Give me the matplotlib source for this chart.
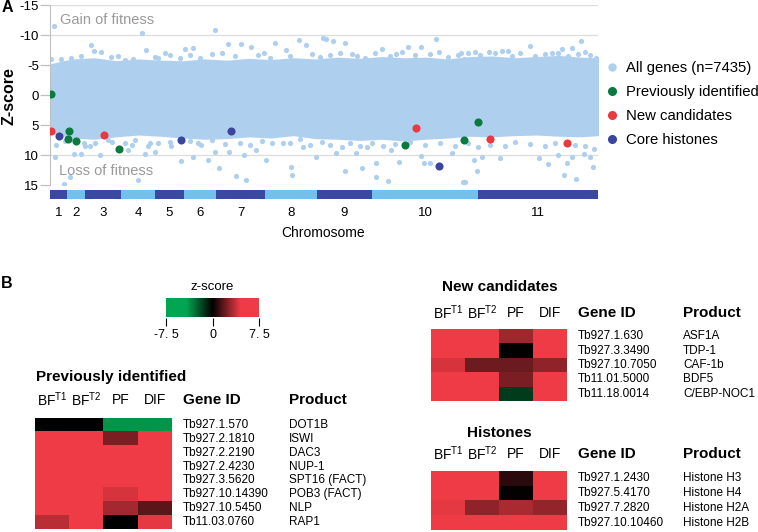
import matplotlib.pyplot as plt
from matplotlib.colors import LinearSegmentedColormap
from matplotlib.lines import Line2D

plt.rcParams['font.family'] = ['Liberation Sans', 'DejaVu Sans']
plt.rcParams['mathtext.fontset'] = 'custom'
plt.rcParams['mathtext.rm'] = 'Liberation Sans'

# ---- panel A data (gene rank along genome, z-score) ----
n_genes = 7435
chrom_edges = [0, 231, 475, 963, 1425, 1818, 2253, 2918, 3623, 4369, 5808, 7435]
chrom_names = ['1', '2', '3', '4', '5', '6', '7', '8', '9', '10', '11']

# dense core of the cloud (upper / lower edge)
core_pos = [0, 300, 600, 900, 1200, 1500, 1800, 2100, 2400, 2700, 3000, 3300, 3600,
            3900, 4200, 4500, 4800, 5100, 5400, 5700, 6000, 6300, 6600, 6900, 7200, 7435]
core_top = [-5.0, -5.8, -6.0, -5.5, -5.8, -5.6, -5.5, -5.8, -5.6, -5.9, -5.7, -6.0, -5.8,
            -6.1, -5.9, -6.2, -6.0, -6.1, -5.8, -6.2, -6.3, -6.0, -6.2, -6.4, -6.1, -6.0]
core_bot = [6.0, 6.8, 7.0, 6.6, 6.3, 6.5, 6.8, 7.0, 6.9, 6.6, 6.8, 6.4, 6.9,
            7.0, 7.2, 7.0, 7.3, 7.0, 6.8, 6.5, 6.6, 6.4, 6.3, 6.5, 6.6, 6.4]

# scattered genes outside the core
out_pos = [54, 1248, 556, 692, 597, 1303, 1561, 1832, 149, 285, 828, 1018, 1425,
           68, 326, 421, 679, 1058, 1289, 1194, 190, 271, 1778, 1425, 461, 543, 841, 1113, 1357, 1628,
           2239, 2415, 2592, 2728, 3053, 3379, 3474, 3705, 1941, 2334, 3203, 2904,
           2239, 2049, 2429, 2633, 2795, 2931, 2293, 2144, 2524, 2660, 3270, 3284, 3610, 1941, 3162, 3433,
           3840, 4003, 3745, 4858, 5034, 5238, 4505, 5279, 5577, 4166, 4695,
           3881, 4152, 4003, 4234, 4424, 4424, 4587, 4736, 5075, 5157, 5034, 5455, 5604, 4302, 4627,
           6514, 7206, 6134, 6215, 5767, 5957, 6948, 7084, 6812, 7260, 5618,
           5794, 5632, 5754, 5862, 6106, 6636, 6758, 6894, 7016, 6975, 7138, 7084, 7246, 7369, 7328,
           14, 421, 923, 1126, 1466, 1628, 1764, 1900, 2036, 2198, 2510, 2823, 2985, 3257, 3555, 3664,
           3800, 3935, 4098, 4275, 4410, 4614, 4777, 4953, 5157, 5401, 5537,
           5672, 5835, 6039, 6269, 6378, 6581, 6717, 6894, 7029, 7165, 7328, 7409,
           81, 204, 475, 611, 787, 1018, 1153, 1330, 1466, 1642, 1900, 2008, 2198, 2375, 2578, 2714,
           2877, 3013, 3257, 3393, 3528, 3691, 3800, 3962, 4071, 4207, 4370, 4519, 4682, 4885, 5089,
           5292, 5496, 5672, 5808, 5971, 6174, 6310, 6514, 6717, 6853, 7125, 7260, 7382]
out_z = [-11.6, -10.4, -8.4, -7.3, -7.4, -7.6, -7.1, -7.7, -6.1, -6.2, -6.4, -5.9, -6.4,
         10.2, 9.8, 9.8, 9.9, 9.1, 9.8, 14.1, 14.7, 13.6, 11.0, 9.4, 8.0, 8.5, 7.8, 8.3, 8.0, 7.8,
         -10.9, -8.6, -8.6, -8.0, -8.7, -9.2, -8.4, -9.5, -7.9, -7.1, -7.6, -7.1,
         9.4, 8.3, 9.4, 9.9, 9.1, 10.7, 12.1, 10.7, 13.4, 14.1, 11.9, 13.2, 10.2, 10.2, 8.0, 8.6,
         -9.1, -8.8, -9.4, -8.1, -8.1, -9.4, -7.7, -7.3, -7.1, -6.5, -6.9,
         9.6, 9.6, 12.6, 12.1, 11.3, 13.6, 14.3, 11.1, 11.3, 11.3, 10.1, 9.6, 14.4, 8.6, 9.1,
         -8.3, -9.1, -7.4, -7.4, -7.3, -7.3, -7.8, -7.9, -7.1, -7.2, -6.1,
         12.6, 14.4, 10.7, 10.2, 10.5, 10.5, 11.4, 9.9, 11.3, 13.2, 13.9, 10.2, 9.8, 11.9, 10.2,
         -6.0, -6.5, -6.6, -6.0, -6.3, -6.7, -6.2, -6.8, -6.3, -6.9, -6.5, -6.8, -6.2, -6.6, -6.9, -6.4,
         -6.8, -7.0, -6.9, -6.2, -7.0, -6.5, -7.2, -6.7, -6.9, -6.4, -6.8,
         -7.0, -6.8, -7.0, -6.6, -7.1, -6.5, -6.9, -7.0, -6.6, -6.9, -6.8, -6.3,
         8.2, 7.6, 8.5, 7.9, 7.4, 7.9, 7.4, 8.5, 7.9, 8.5, 7.6, 8.0, 7.4, 8.1, 7.9, 8.3,
         7.6, 8.0, 7.9, 7.3, 8.3, 7.7, 8.2, 8.6, 7.9, 8.5, 8.0, 8.4, 8.1, 7.7, 8.3,
         7.9, 8.5, 8.0, 8.6, 8.2, 8.4, 7.8, 8.1, 8.5, 7.9, 8.2, 8.4, 9.0]

prev_pos = [14, 258, 244, 353, 936, 4817, 5618, 5808]
prev_z = [-0.3, 6.0, 7.2, 7.6, 9.0, 8.3, 7.5, 4.5]
new_pos = [14, 733, 4967, 5971, 7016]
new_z = [5.9, 6.6, 5.5, 7.3, 8.0]
hist_pos = [122, 1778, 2456, 5279]
hist_z = [6.7, 7.4, 6.0, 11.7]

# ---- panel B data ----
cols = [r'BF$^{\mathregular{T1}}$', r'BF$^{\mathregular{T2}}$', 'PF', 'DIF']

prev_ids = ['Tb927.1.570', 'Tb927.2.1810', 'Tb927.2.2190', 'Tb927.2.4230',
            'Tb927.3.5620', 'Tb927.10.14390', 'Tb927.10.5450', 'Tb11.03.0760']
prev_prod = ['DOT1B', 'ISWI', 'DAC3', 'NUP-1', 'SPT16 (FACT)', 'POB3 (FACT)', 'NLP', 'RAP1']
prev_vals = [[0.0, 0.0, -3.8, -3.8],
             [7.0, 7.0, 2.3, 7.0],
             [7.0, 7.0, 7.0, 7.0],
             [7.0, 7.0, 7.0, 7.0],
             [7.0, 7.0, 7.0, 7.0],
             [7.0, 7.0, 4.0, 7.0],
             [7.0, 7.0, 3.1, 1.7],
             [3.5, 7.0, 0.0, 4.3]]

new_ids = ['Tb927.1.630', 'Tb927.3.3490', 'Tb927.10.7050', 'Tb11.01.5000', 'Tb11.18.0014']
new_prod = ['ASF1A', 'TDP-1', 'CAF-1b', 'BDF5', 'C/EBP-NOC1']
new_vals = [[7.0, 7.0, 3.0, 7.0],
            [7.0, 7.0, 0.1, 7.0],
            [4.0, 2.1, 2.0, 2.7],
            [7.0, 7.0, 2.3, 7.0],
            [7.0, 7.0, -1.5, 7.0]]

hist_ids = ['Tb927.1.2430', 'Tb927.5.4170', 'Tb927.7.2820', 'Tb927.10.10460']
hist_prod = ['Histone H3', 'Histone H4', 'Histone H2A', 'Histone H2B']
hist_vals = [[7.0, 7.0, 0.8, 7.0],
             [7.0, 7.0, 0.1, 7.0],
             [4.3, 2.7, 3.2, 2.8],
             [7.0, 7.0, 7.0, 7.0]]

cloud_c = '#afcfee'
green = '#0b7a3f'
red = '#e9383f'
navy = '#3a469e'
chrom_dark = '#3b48a3'
chrom_light = '#72c1ec'

W, H = 758, 532
fig = plt.figure(figsize=(W / 100, H / 100), dpi=100)


def px_axes(x0, y0, x1, y1):
    return fig.add_axes([x0 / W, 1 - y1 / H, (x1 - x0) / W, (y1 - y0) / H])


def fig_text(x, y, s, **kw):
    return fig.text(x / W, 1 - y / H, s, **kw)


# ---------------- panel A ----------------
ax = px_axes(50, 5.5, 598, 185.5)
ax.set_xlim(0, n_genes)
ax.set_ylim(15, -15)
ax.set_axisbelow(True)
ax.yaxis.grid(True, color='#dcdcdc', lw=0.9)
ax.set_yticks([-15, -10, -5, 0, 5, 10, 15])
ax.set_yticklabels(['-15', '-10', '-5', '0', '5', '10', '15'])
ax.tick_params(axis='y', length=7, width=0.9, color='#c0c0c0', labelsize=9.5, pad=1)
ax.set_xticks([])
for s in ['top', 'right', 'bottom']:
    ax.spines[s].set_visible(False)
ax.spines['left'].set_color('#c0c0c0')

ax.fill_between(core_pos, core_top, core_bot, color=cloud_c, lw=2.5, zorder=1)
ax.scatter(out_pos, out_z, s=14, color=cloud_c, lw=0, zorder=2)
ax.scatter(prev_pos, prev_z, s=34, color=green, lw=0, zorder=4)
ax.scatter(new_pos, new_z, s=34, color=red, lw=0, zorder=4)
ax.scatter(hist_pos, hist_z, s=34, color=navy, lw=0, zorder=4)

ax.text(136, -12.6, 'Gain of fitness', color='#9a9a9a', fontsize=10.5, va='center')
ax.text(122, 12.6, 'Loss of fitness', color='#9a9a9a', fontsize=10.5, va='center')

handles = [Line2D([], [], marker='o', ls='', color=cloud_c, markersize=5),
           Line2D([], [], marker='o', ls='', color=green, markersize=5.5),
           Line2D([], [], marker='o', ls='', color=red, markersize=5.5),
           Line2D([], [], marker='o', ls='', color=navy, markersize=5.5)]
labels = ['All genes (n=7435)', 'Previously identified', 'New candidates', 'Core histones']
fig.legend(handles, labels, loc='upper left', bbox_to_anchor=(605 / W, 1 - 61 / H),
           bbox_transform=fig.transFigure, frameon=False, fontsize=10.7,
           handlelength=0.95, handletextpad=0.45, labelspacing=0.67, borderpad=0,
           borderaxespad=0)

cax = px_axes(50, 190, 598, 199)
cax.set_xlim(0, n_genes)
cax.set_ylim(-0.5, 0.5)
cax.set_axis_off()
for i, name in enumerate(chrom_names):
    left, right = chrom_edges[i], chrom_edges[i + 1]
    cax.barh(0, right - left, left=left, height=1.0,
             color=chrom_dark if i % 2 == 0 else chrom_light, lw=0)
    cax.text((left + right) / 2, -2.05, name, ha='center', va='center', fontsize=9.5)
fig_text(323, 233, 'Chromosome', ha='center', va='center', fontsize=10)

fig_text(9, 96, 'Z-score', rotation=90, ha='center', va='center',
         fontsize=11.5, fontweight='bold')
fig_text(7, 7, 'A', ha='center', va='center', fontsize=11.5, fontweight='bold')
fig_text(7, 284, 'B', ha='center', va='center', fontsize=11.5, fontweight='bold')

# ---------------- panel B ----------------
cmap = LinearSegmentedColormap.from_list(
    'gkr', [(0.0, '#00a651'), (0.22, '#00a651'), (0.5, '#000000'),
            (0.8, '#ee3b45'), (1.0, '#ee3b45')])

bar = px_axes(166, 298, 259, 317.5)
grad = [[i / 255 * 15 - 7.5 for i in range(256)]]
bar.imshow(grad, cmap=cmap, vmin=-7.5, vmax=7.5, aspect='auto',
           extent=[-7.5, 7.5, 0, 1])
bar.set_yticks([])
bar.set_xticks([-7.5, 0, 7.5])
bar.set_xticklabels(['-7. 5', '0', '7. 5'])
bar.tick_params(axis='x', length=6, width=0.8, labelsize=9, pad=2)
for s in bar.spines.values():
    s.set_visible(False)
bar.text(0.5, 1.25, 'z-score', transform=bar.transAxes, ha='center', va='bottom',
         fontsize=9.5)


def heatmap(x0, y0, x1, y1, vals, ids, prods, title, title_x, title_y, head_dy):
    hax = px_axes(x0, y0, x1, y1)
    hax.imshow(vals, cmap=cmap, vmin=-7.5, vmax=7.5, aspect='auto',
               interpolation='nearest')
    hax.set_axis_off()
    tr = hax.get_yaxis_transform()
    for i, (g, p) in enumerate(zip(ids, prods)):
        hax.text(1.08, i, g, transform=tr, ha='left', va='center', fontsize=8.5)
        hax.text(1.855, i, p, transform=tr, ha='left', va='center', fontsize=8.5)
    for j, c in enumerate(cols):
        hax.annotate(c, xy=(j, -0.5), xycoords='data', xytext=(0, head_dy * 0.72),
                     textcoords='offset points', ha='center', va='center', fontsize=10)
    for xf, t in [(1.08, 'Gene ID'), (1.855, 'Product')]:
        hax.annotate(t, xy=(xf, 1), xycoords='axes fraction',
                     xytext=(0, head_dy * 0.72), textcoords='offset points',
                     ha='left', va='center', fontsize=11, fontweight='bold')
    fig_text(title_x, title_y, title, ha='left', va='center', fontsize=11,
             fontweight='bold')


heatmap(35, 418, 172, 529, prev_vals, prev_ids, prev_prod,
        'Previously identified', 36, 377, 18)
heatmap(431, 329, 567, 401, new_vals, new_ids, new_prod,
        'New candidates', 442, 287, 16)
heatmap(431, 471, 567, 530, hist_vals, hist_ids, hist_prod,
        'Histones', 467, 433, 17)

fig.savefig('out.png', dpi=100)
